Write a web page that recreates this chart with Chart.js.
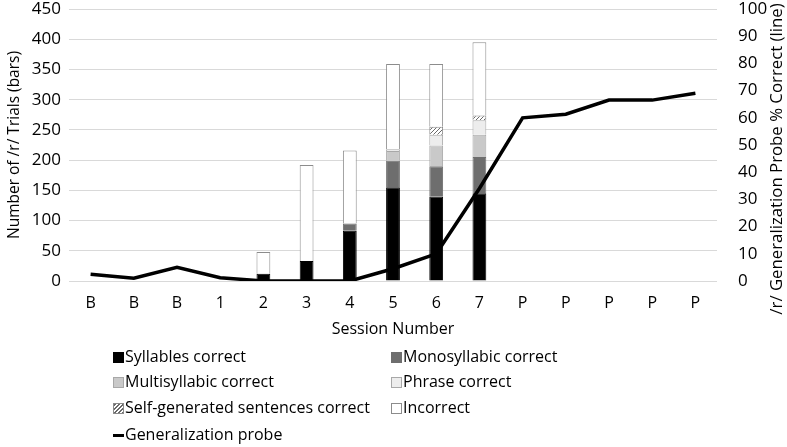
<!DOCTYPE html>
<html>
<head>
<meta charset="utf-8">
<script src="https://cdn.jsdelivr.net/npm/chart.js@4"></script>
<style>
  html, body { margin: 0; padding: 0; background: #fff; }
  #wrap { position: relative; width: 787px; height: 447px; font-family: "Open Sans", sans-serif; }
  #legend { position: absolute; left: 0; top: 0; width: 787px; height: 447px; pointer-events: none; }
  .item { position: absolute; font-size: 16px; color: #000; white-space: nowrap; line-height: 20px; height: 20px; }
  .mk { position: absolute; left: 0; top: 5px; width: 11px; height: 11px; box-sizing: border-box; }
  .txt { position: absolute; left: 12px; top: -1px; }
</style>
</head>
<body>
<div id="wrap">
  <canvas id="c"></canvas>
  <div id="legend"></div>
</div>
<script>
const sessions = ['B','B','B','1','2','3','4','5','6','7','P','P','P','P','P'];
const syllablesCorrect     = [null,null,null,null,12,33,83,155,140,145,null,null,null,null,null];
const monosyllabicCorrect  = [null,null,null,null,0,0,12,44,50,60,null,null,null,null,null];
const multisyllabicCorrect = [null,null,null,null,0,0,0,16,34,37,null,null,null,null,null];
const phraseCorrect        = [null,null,null,null,0,0,0,3,18,24,null,null,null,null,null];
const selfGenCorrect       = [null,null,null,null,0,0,0,0,13,8,null,null,null,null,null];
const incorrect            = [null,null,null,null,36,159,121,141,104,121,null,null,null,null,null];
const generalizationProbe  = [2.5,1,5,1.2,0,0,0,4.5,10,34,60,61.3,66.5,66.5,69];
const leftTicks = [0,50,100,150,200,250,300,350,400,450];
const rightTicks = [0,10,20,30,40,50,60,70,80,90,100];

function makeHatch() {
  const p = document.createElement('canvas');
  p.width = 4; p.height = 4;
  const g = p.getContext('2d');
  g.fillStyle = '#ffffff'; g.fillRect(0,0,4,4);
  g.strokeStyle = '#6a6a6a'; g.lineWidth = 1;
  g.beginPath();
  g.moveTo(0,4); g.lineTo(4,0);
  g.moveTo(-1,1); g.lineTo(1,-1);
  g.moveTo(3,5); g.lineTo(5,3);
  g.stroke();
  return document.getElementById('c').getContext('2d').createPattern(p, 'repeat');
}
const hatch = makeHatch();

const FONT = "'Open Sans', sans-serif";

const rightTitle = {
  id: 'rightTitle',
  afterDraw(chart) {
    const ctx = chart.ctx;
    ctx.save();
    ctx.translate(777, 159);
    ctx.rotate(-Math.PI/2);
    ctx.font = "16.8px " + FONT;
    ctx.fillStyle = '#000';
    ctx.textAlign = 'center';
    ctx.textBaseline = 'middle';
    ctx.fillText('/r/ Generalization Probe % Correct (line)', 0, 0);
    ctx.restore();
  }
};

const barCommon = { type: 'bar', yAxisID: 'y', stack: 's', order: 1, borderWidth: 1, barPercentage: 0.32, categoryPercentage: 1 };

const chart = new Chart(document.getElementById('c'), {
  data: {
    labels: sessions,
    datasets: [
      Object.assign({ label: 'Syllables correct', data: syllablesCorrect, backgroundColor: '#000000', borderColor: '#000000' }, barCommon),
      Object.assign({ label: 'Monosyllabic correct', data: monosyllabicCorrect, backgroundColor: '#6e6e6e', borderColor: '#6e6e6e' }, barCommon),
      Object.assign({ label: 'Multisyllabic correct', data: multisyllabicCorrect, backgroundColor: '#c9c9c9', borderColor: '#a8a8a8' }, barCommon),
      Object.assign({ label: 'Phrase correct', data: phraseCorrect, backgroundColor: '#ededed', borderColor: '#a8a8a8' }, barCommon),
      Object.assign({ label: 'Self-generated sentences correct', data: selfGenCorrect, backgroundColor: hatch, borderColor: '#8c8c8c' }, barCommon),
      Object.assign({ label: 'Incorrect', data: incorrect, backgroundColor: '#ffffff', borderColor: '#8c8c8c' }, barCommon),
      { type: 'line', label: 'Generalization probe', data: generalizationProbe, yAxisID: 'y1', order: 0,
        borderColor: '#000000', borderWidth: 3.5, pointRadius: 0, tension: 0, fill: false }
    ]
  },
  options: {
    responsive: true,
    maintainAspectRatio: false,
    animation: false,
    layout: { padding: { top: 9, bottom: 106, left: 0, right: 0 } },
    plugins: { legend: { display: false }, tooltip: { enabled: false } },
    scales: {
      x: {
        stacked: true,
        grid: { display: false, drawTicks: false },
        border: { display: false },
        ticks: { autoSkip: false, maxRotation: 0, padding: 13, color: '#000', font: { family: FONT, size: 16 } },
        title: { display: true, text: 'Session Number', color: '#000', font: { family: FONT, size: 16 }, padding: { top: 0, bottom: 2 } },
        afterFit(s) { s.height = 60; }
      },
      y: {
        position: 'left',
        stacked: true,
        min: 0, max: 450,
        afterBuildTicks(s) { s.ticks = leftTicks.map(v => ({ value: v })); },
        grid: { color: '#d9d9d9', lineWidth: 1, drawTicks: true, tickLength: 8, tickColor: 'rgba(0,0,0,0)' },
        border: { display: false },
        ticks: { padding: 0, color: '#000', font: { family: FONT, size: 17, lineHeight: 1 } },
        title: { display: true, text: 'Number of /r/ Trials (bars)', color: '#000', font: { family: FONT, size: 15.5 }, padding: { top: 5, bottom: 0 } },
        afterFit(s) { s.width = 69; }
      },
      y1: {
        position: 'right',
        min: 0, max: 100,
        afterBuildTicks(s) { s.ticks = rightTicks.map(v => ({ value: v })); },
        grid: { display: false, drawTicks: true, tickLength: 21, tickColor: 'rgba(0,0,0,0)' },
        border: { display: false },
        ticks: { padding: 0, color: '#000', font: { family: FONT, size: 17, lineHeight: 1 } },
        afterFit(s) { s.width = 70; }
      }
    }
  },
  plugins: [rightTitle]
});

(function buildLegend() {
  const lg = document.getElementById('legend');
  const pos = [
    [113, 347], [391, 347],
    [113, 372], [391, 372],
    [113, 398], [391, 398],
    [113, 425]
  ];
  chart.data.datasets.forEach((ds, i) => {
    const it = document.createElement('div');
    it.className = 'item';
    it.style.left = pos[i][0] + 'px';
    it.style.top = pos[i][1] + 'px';
    const mk = document.createElement('div');
    mk.className = 'mk';
    if (ds.type === 'line') {
      mk.style.top = '8.5px'; mk.style.height = '3px'; mk.style.width = '11px';
      mk.style.background = '#000';
    } else if (ds.backgroundColor === hatch) {
      mk.style.background = 'repeating-linear-gradient(-45deg, #6a6a6a 0 1px, #fff 1px 2.8px)';
      mk.style.border = '1px solid #8c8c8c';
    } else {
      mk.style.background = ds.backgroundColor;
      mk.style.border = '1px solid ' + ds.borderColor;
    }
    const tx = document.createElement('span');
    tx.className = 'txt';
    tx.textContent = ds.label;
    it.appendChild(mk); it.appendChild(tx);
    lg.appendChild(it);
  });
})();
</script>
</body>
</html>
